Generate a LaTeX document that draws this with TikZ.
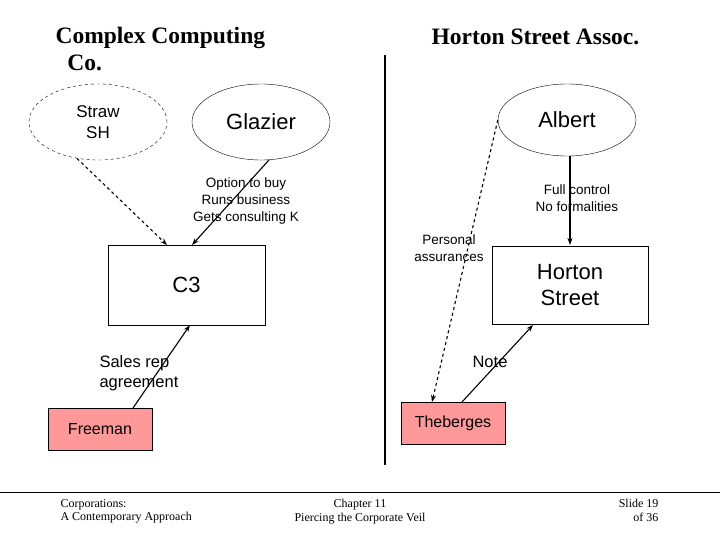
\documentclass[tikz,border=0pt]{standalone}
\usepackage{fontspec}
\setmainfont{Liberation Serif}
\newfontfamily\sans{Liberation Sans}
\usetikzlibrary{arrows.meta,shapes.geometric}
\definecolor{pinkfill}{HTML}{FF9999}
\begin{document}
\begin{tikzpicture}[x=1pt,y=-1pt,
  ell/.style={draw,ellipse,minimum width=138pt,minimum height=76pt,font=\sans\fontsize{22}{24}\selectfont,align=center},
  boxn/.style={draw,rectangle,font=\sans\fontsize{22}{26}\selectfont,align=center},
  pinkbox/.style={draw,rectangle,fill=pinkfill,font=\sans\fontsize{16}{18}\selectfont,minimum width=104pt,minimum height=42pt},
  small/.style={font=\sans\fontsize{13.5}{17}\selectfont,align=center},
  mid/.style={font=\sans\fontsize{16.5}{20}\selectfont,align=left},
  arr/.style={-{Stealth[length=7pt,width=5pt]},line width=1.1pt},
  foot/.style={font=\fontsize{12}{13.5}\selectfont}]
\useasboundingbox (0,0) rectangle (720,540);
\node[font=\bfseries\fontsize{23.5}{27}\selectfont,align=left,anchor=north west] (t1) at (52,24) {Complex Computing\\\ \ Co.};
\node[font=\bfseries\fontsize{23.5}{27}\selectfont,anchor=north west] (t2) at (428,25) {Horton Street Assoc.};
\coordinate (v1) at (385,55); \coordinate (v2) at (385,465);
\draw[line width=1.4pt] (v1) -- (v2);
\node[ell,dashed,font=\sans\fontsize{17}{21}\selectfont] (straw) at (98,122) {Straw\\SH};
\node[ell] (glazier) at (261,122) {Glazier};
\node[ell,minimum height=72pt] (albert) at (567,120) {Albert};
\node[boxn,minimum width=157pt,minimum height=80pt] (c3) at (186.5,285) {C3};
\node[boxn,minimum width=156pt,minimum height=78pt] (horton) at (570,285) {Horton\\Street};
\node[pinkbox] (freeman) at (100,429) {Freeman};
\node[pinkbox] (theb) at (453,423) {Theberges};
\coordinate (as) at (570,156);
\draw[arr,dashed] (straw.-120) -- (167,245);
\draw[arr] (glazier.-78) -- (192,245);
\draw[arr] (as) -- (570,245);
\draw[arr,dashed] (albert.west) -- (432,402);
\draw[arr] (462,402) -- (533,325);
\draw[arr] (133,408) -- (190,325);
\node[small] (l1) at (246,201) {Option to buy\\Runs business\\Gets consulting K};
\node[small] (l2) at (577,198) {Full control\\No formalities};
\node[small] (l3) at (449,248) {Personal\\assurances};
\node[font=\sans\fontsize{16.5}{20}\selectfont] (l4) at (490,362) {Note};
\node[mid,anchor=west] (l5) at (96,373) {Sales rep\\agreement};
\coordinate (f1) at (0,492); \coordinate (f2) at (720,492);
\draw[line width=1pt] (f1) -- (f2);
\node[foot,align=left,anchor=north west] (ft1) at (57,496) {Corporations:\\A Contemporary Approach};
\node[foot,align=center,anchor=north] (ft2) at (360,496) {Chapter 11\\Piercing the Corporate Veil};
\node[foot,align=right,anchor=north east] (ft3) at (662,496) {Slide 19\\of 36};
\end{tikzpicture}
\end{document}
